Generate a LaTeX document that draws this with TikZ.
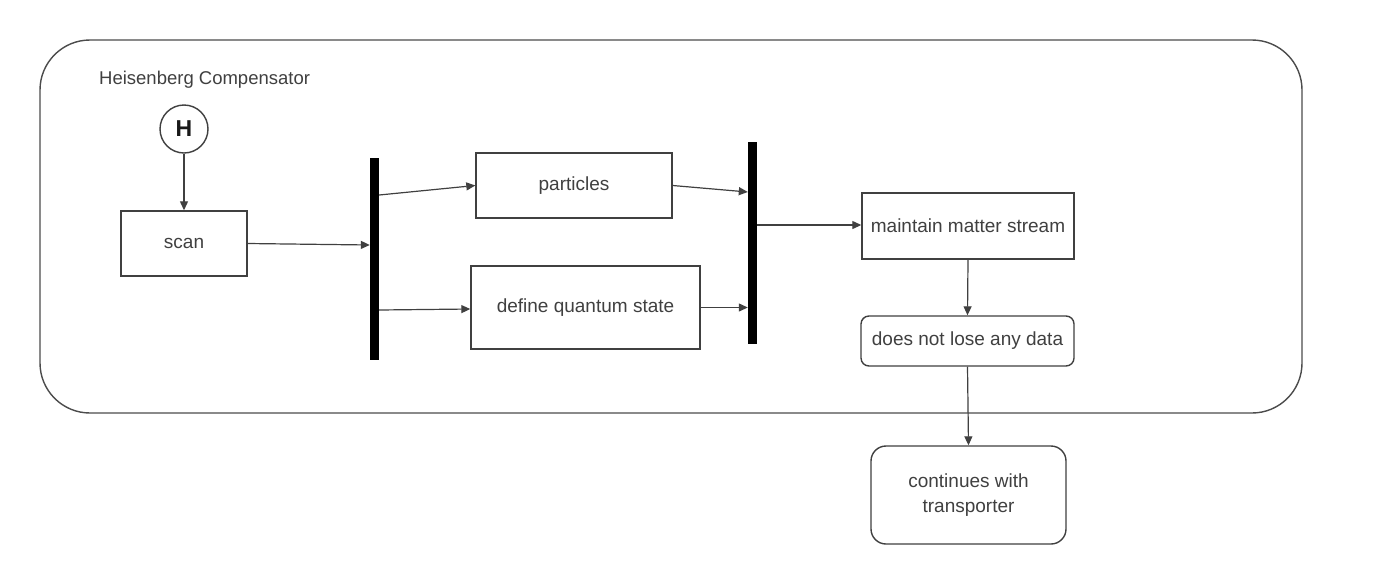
\documentclass[tikz,border=0pt]{standalone}
\usepackage{fontspec}
\setmainfont{Liberation Sans}
\usetikzlibrary{arrows.meta}
\begin{document}
\begin{tikzpicture}[x=1pt,y=-1pt,
  txt/.style={text=black!75, font=\fontsize{19}{25}\selectfont},
  box/.style={draw=black!75, line width=1.4pt, txt, inner sep=0pt, align=center},
  bar/.style={fill=black, draw=none, inner sep=0pt},
  conn/.style={draw=black!75, line width=1.2pt, -{Triangle[length=9pt,width=8pt]}}]
\useasboundingbox (0,0) rectangle (1380,568);
\fill[white] (0,0) rectangle (1380,568);
% container
\draw[black!70, line width=1.4pt, rounded corners=50pt] (40,40) rectangle (1302,413);
\node[txt, font=\fontsize{18.5}{22}\selectfont, anchor=west, inner sep=0pt] (title) at (99,80) {Heisenberg Compensator};
% start
\node[draw=black!75, line width=1.4pt, circle, minimum size=48pt, inner sep=0pt, font=\fontsize{23}{25}\selectfont\bfseries, text=black!90] (H) at (184,129) {H};
\node[box, minimum width=126pt, minimum height=65pt] (scan) at (184,243.5) {scan};
\node[bar, minimum width=9pt, minimum height=202pt] (bar1) at (374.5,259) {};
\node[box, minimum width=196pt, minimum height=65pt] (part) at (574,185.5) {particles};
\node[box, minimum width=229pt, minimum height=83pt] (def) at (585.5,307.5) {define quantum state};
\node[bar, minimum width=9pt, minimum height=202pt] (bar2) at (752.5,243) {};
\node[box, minimum width=212pt, minimum height=66pt] (maint) at (968,226) {maintain matter stream};
\node[box, rounded corners=8pt, minimum width=213pt, minimum height=50pt] (lose) at (967.5,341) {does not lose any data};
\node[box, rounded corners=15pt, minimum width=195pt, minimum height=98pt] (cont) at (968.5,495) {continues with\\transporter};
% connectors
\draw[conn] (H.south) -- (scan.north);
\draw[conn] (scan.east) -- (bar1.west |- 0,245);
\draw[conn] (bar1.east |- 0,195) -- (part.west);
\draw[conn] (bar1.east |- 0,310) -- (def.west |- 0,309);
\draw[conn] (part.east) -- (bar2.west |- 0,192);
\draw[conn] (def.east) -- (bar2.west |- 0,307.5);
\draw[conn] (bar2.east |- 0,225) -- (maint.west |- 0,225);
\draw[conn] (maint.south) -- (lose.north);
\draw[conn] (lose.south) -- (cont.north);
\end{tikzpicture}
\end{document}
